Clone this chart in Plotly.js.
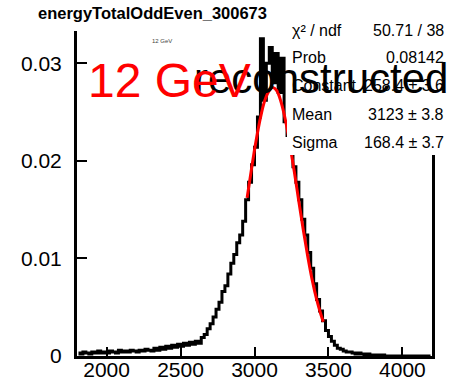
<!DOCTYPE html>
<html>
<head>
<meta charset="utf-8">
<script src="https://cdn.plot.ly/plotly-3.0.1.min.js"></script>
<style>html,body{margin:0;padding:0;background:#fff;}#chart{width:450px;height:384px;}</style>
</head>
<body>
<div id="chart"></div>
<script>
// Histogram bin centres (bin width 20) and contents
const binCenters = [
1810,1830,1850,1870,1890,1910,1930,1950,1970,1990,
2010,2030,2050,2070,2090,2110,2130,2150,2170,2190,
2210,2230,2250,2270,2290,2310,2330,2350,2370,2390,
2410,2430,2450,2470,2490,2510,2530,2550,2570,2590,
2610,2630,2650,2670,2690,2710,2730,2750,2770,2790,
2810,2830,2850,2870,2890,2910,2930,2950,2970,2990,
3010,3030,3050,3070,3090,3110,3130,3150,3170,3190,
3210,3230,3250,3270,3290,3310,3330,3350,3370,3390,
3410,3430,3450,3470,3490,3510,3530,3550,3570,3590,
3610,3630,3650,3670,3690,3710,3730,3750,3770,3790,
3810,3830,3850,3870,3890,3910,3930,3950,3970,3990,
4010,4030,4050,4070,4090,4110,4130,4150,4170,4190];
const binContents = [
0.0003,0.0002,0.0004,0.0003,0.0002,0.0004,0.0003,0.0005,0.0003,0.0004,
0.0003,0.0005,0.0004,0.0003,0.0006,0.0004,0.0005,0.0004,0.0006,0.0005,
0.0004,0.0006,0.0005,0.0007,0.0006,0.0005,0.0008,0.0006,0.0009,0.0007,
0.0010,0.0008,0.0011,0.0009,0.0012,0.0010,0.0013,0.0011,0.0014,0.0012,
0.0015,0.0013,0.0019,0.0022,0.0028,0.0033,0.0040,0.0048,0.0055,0.0066,
0.0072,0.0084,0.0095,0.0104,0.0116,0.0124,0.0138,0.0160,0.0178,0.0196,
0.0214,0.0245,0.0325,0.0262,0.0300,0.0316,0.0280,0.0310,0.0270,0.0305,
0.0240,0.0226,0.0208,0.0194,0.0178,0.0160,0.0140,0.0124,0.0106,0.0090,
0.0074,0.0058,0.0046,0.0036,0.0026,0.0020,0.0015,0.0011,0.0008,0.0007,
0.0005,0.0004,0.0004,0.0003,0.0002,0.0003,0.0002,0.0001,0.0002,0.0001,
0.0001,0.0001,0.0000,0.0001,0.0000,0.0000,0.0000,0.0000,0.0000,0.0000,
0.0000,0.0000,0.0000,0.0000,0.0000,0.0000,0.0000,0.0000,0.0000,0.0000];

// Gaussian fit curve points
const fitX = [2950,2980,3010,3040,3070,3100,3123,3150,3180,3210,3240,3270,3300,3330,3360,3390,3420,3450,3465];
const fitY = [0.0162,0.0192,0.0220,0.0244,0.0262,0.0272,0.0275,0.0272,0.0260,0.0241,0.0216,0.0188,0.0158,0.0129,0.0102,0.0078,0.0058,0.0042,0.0035];

const xTicks = [2000,2500,3000,3500,4000];
const xTickText = ['2000','2500','3000','3500','4000'];
const yTicks = [0,0.01,0.02,0.03];
const yTickText = ['0','0.01','0.02','0.03'];

const histTitle = 'energyTotalOddEven_300673';
const statLabels = ['χ² / ndf','Prob','Constant','Mean','Sigma'];
const statValues = ['50.71 / 38','0.08142','258.4 ± 3.6','3123 ± 3.8','168.4 ± 3.7'];

// pixel -> paper helpers (plot area 77..432 x, 31..356 y)
const L = 77, R = 432, T = 31, B = 356;
const px = v => (v - L) / (R - L);
const py = v => (B - v) / (B - T);

const traces = [
  {x: binCenters, y: binContents, type: 'scatter', mode: 'lines',
   line: {color: '#000', width: 3, shape: 'hvh'}, hoverinfo: 'skip'},
  {x: fitX, y: fitY, type: 'scatter', mode: 'lines',
   line: {color: '#ff0000', width: 3, shape: 'spline'}, hoverinfo: 'skip'}
];

const annotations = [];
annotations.push({xref:'paper', yref:'paper', x: px(36), y: py(13), xanchor:'left', yanchor:'middle',
  text: '<b>' + histTitle + '</b>', showarrow:false, font:{family:'Liberation Sans, Arial', size:16.5, color:'#000'}});
annotations.push({xref:'paper', yref:'paper', x: px(150), y: py(41), xanchor:'left', yanchor:'middle',
  text: '12 GeV', showarrow:false, font:{family:'Liberation Sans, Arial', size:6, color:'#444'}});
for (let i = 0; i < statLabels.length; i++) {
  const yy = py(30 + i * 28);
  annotations.push({xref:'paper', yref:'paper', x: px(290), y: yy, xanchor:'left', yanchor:'middle',
    text: statLabels[i], showarrow:false, font:{family:'Liberation Sans, Arial', size:16, color:'#000'}});
  annotations.push({xref:'paper', yref:'paper', x: px(446), y: yy, xanchor:'right', yanchor:'middle',
    text: statValues[i], showarrow:false, font:{family:'Liberation Sans, Arial', size:16, color:'#000'}});
}
annotations.push({xref:'paper', yref:'paper', x: px(192), y: py(78), xanchor:'left', yanchor:'middle',
  text: 'reconstructed', showarrow:false, font:{family:'Liberation Sans, Arial', size:42, color:'#000'}});
annotations.push({xref:'paper', yref:'paper', x: px(86), y: py(80), xanchor:'left', yanchor:'middle',
  text: '12 GeV', showarrow:false, font:{family:'Liberation Sans, Arial', size:48, color:'#ff0000'}});

const layout = {
  width: 450, height: 384,
  margin: {l: L, r: 450 - R, t: T, b: 384 - B, pad: 0},
  paper_bgcolor: '#fff', plot_bgcolor: '#fff',
  showlegend: false,
  font: {family: 'Liberation Sans, Arial', color: '#000'},
  xaxis: {range: [1800, 4200], tickvals: xTicks, ticktext: xTickText,
    ticks: 'inside', ticklen: 9, tickwidth: 2, tickcolor: '#000',
    showline: true, linewidth: 3, linecolor: '#000', mirror: false,
    showgrid: false, zeroline: false, tickfont: {size: 21, color:'#000'}, ticklabelstandoff: -7},
  yaxis: {range: [0, 0.0333], tickvals: yTicks, ticktext: yTickText,
    ticks: 'inside', ticklen: 10, tickwidth: 2, tickcolor: '#000',
    showline: true, linewidth: 3, linecolor: '#000', mirror: true,
    showgrid: false, zeroline: false, tickfont: {size: 21, color:'#000'}, ticklabelstandoff: 8},
  shapes: [
    {type:'rect', xref:'paper', yref:'paper', x0: px(287), x1: px(452), y0: py(155), y1: py(14),
     fillcolor:'#fff', line:{width:0}, layer:'above'}
  ],
  annotations: annotations
};

Plotly.newPlot('chart', traces, layout, {displayModeBar: false, staticPlot: true});
</script>
</body>
</html>
